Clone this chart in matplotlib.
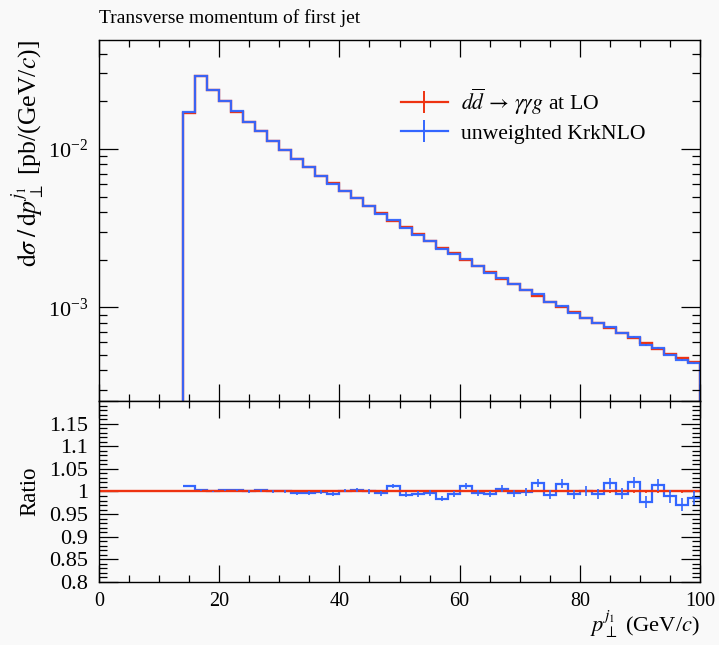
import numpy as np
import matplotlib
matplotlib.use('Agg')
from matplotlib import pyplot as plt
from matplotlib.lines import Line2D
from matplotlib.ticker import MultipleLocator, FuncFormatter, LogLocator

# binning of the leading-jet transverse momentum (GeV/c)
edges = np.arange(14, 101, 2)

# d(sigma)/dpT for d dbar -> gamma gamma g at LO [pb/(GeV/c)]
lo_xsec = [0.01680, 0.0289, 0.0236, 0.0200, 0.01720, 0.01481, 0.01294, 0.01123,
           0.00986, 0.00868, 0.00770, 0.00678, 0.00607, 0.00545, 0.00492, 0.00438,
           0.00392, 0.00352, 0.00320, 0.00290, 0.00262, 0.00238, 0.00219, 0.00199,
           0.00182, 0.00166, 0.00152, 0.00140, 0.00129, 0.001184, 0.001085, 0.001000,
           0.000930, 0.000860, 0.000799, 0.000740, 0.000688, 0.000640, 0.000592,
           0.000548, 0.000509, 0.000476, 0.000449]
lo_rel_err = [0.001, 0.001, 0.001, 0.001, 0.001, 0.001, 0.001, 0.001, 0.001, 0.001,
              0.001, 0.001, 0.001, 0.001, 0.002, 0.002, 0.002, 0.002, 0.002, 0.002,
              0.002, 0.002, 0.002, 0.002, 0.002, 0.002, 0.002, 0.002, 0.002, 0.002,
              0.002, 0.002, 0.002, 0.002, 0.002, 0.003, 0.003, 0.003, 0.003, 0.003,
              0.003, 0.003, 0.003]

# unweighted KrkNLO sample, as ratio to the LO prediction
krk_ratio = [1.012, 1.003, 1.000, 1.003, 1.004, 1.000, 1.003, 1.000, 1.000, 0.996,
             0.997, 0.999, 0.994, 1.002, 1.003, 1.000, 0.996, 1.012, 0.993, 0.994,
             0.997, 0.984, 0.994, 1.012, 0.997, 0.994, 1.006, 0.996, 0.999, 1.018,
             0.993, 1.017, 0.994, 1.002, 0.994, 1.018, 0.995, 1.020, 0.976, 1.015,
             0.989, 0.971, 0.986]
krk_rel_err = [0.002, 0.002, 0.002, 0.002, 0.002, 0.003, 0.003, 0.003, 0.003, 0.003,
               0.004, 0.004, 0.004, 0.004, 0.005, 0.005, 0.005, 0.005, 0.006, 0.006,
               0.006, 0.006, 0.007, 0.007, 0.007, 0.007, 0.008, 0.008, 0.009, 0.009,
               0.010, 0.010, 0.010, 0.011, 0.011, 0.012, 0.012, 0.012, 0.013, 0.013,
               0.014, 0.014, 0.015]

lo_xsec = np.array(lo_xsec)
krk_ratio = np.array(krk_ratio)
krk_xsec = lo_xsec * krk_ratio
centers = 0.5 * (edges[1:] + edges[:-1])

RED = '#EE3311'
BLUE = '#3366FF'
BG = '#f9f9f9'

plt.rcParams['font.family'] = 'Liberation Serif'
plt.rcParams['mathtext.fontset'] = 'stix'
plt.rcParams['font.size'] = 14

fig = plt.figure(figsize=(7.19, 6.45), dpi=100, facecolor=BG)
W, H = 719, 645
left, right = 99 / W, 700 / W
ax = fig.add_axes([left, 1 - 401 / H, right - left, 361 / H], facecolor=BG)
rax = fig.add_axes([left, 1 - 582 / H, right - left, 181 / H], facecolor=BG, sharex=ax)

# main panel
ax.stairs(lo_xsec, edges, baseline=1e-6, color=RED, lw=1.7)
ax.errorbar(centers, lo_xsec, yerr=lo_xsec * np.array(lo_rel_err), fmt='none',
            ecolor=RED, elinewidth=1.2)
ax.stairs(krk_xsec, edges, baseline=1e-6, color=BLUE, lw=1.6, alpha=0.95)
ax.errorbar(centers, krk_xsec, yerr=krk_xsec * np.array(krk_rel_err), fmt='none',
            ecolor=BLUE, elinewidth=1.2)
ax.set_yscale('log')
ax.set_ylim(2.56e-4, 0.0488)
ax.set_xlim(0, 100)
ax.yaxis.set_major_locator(LogLocator(base=10))
ax.yaxis.set_minor_locator(LogLocator(base=10, subs=np.arange(2, 10)))
ax.yaxis.set_minor_formatter(FuncFormatter(lambda v, p: ''))
plt.setp(ax.get_xticklabels(), visible=False)

# ratio panel
rax.axhline(1.0, color=RED, lw=1.7)
rax.errorbar(centers, np.ones_like(lo_xsec), yerr=lo_rel_err, fmt='none',
             ecolor=RED, elinewidth=1.2)
rax.stairs(krk_ratio, edges, baseline=None, color=BLUE, lw=1.6)
rax.errorbar(centers, krk_ratio, yerr=krk_rel_err, fmt='none', ecolor=BLUE,
             elinewidth=1.2)
rax.set_ylim(0.8, 1.2)
rax.yaxis.set_major_locator(MultipleLocator(0.05))
rax.yaxis.set_minor_locator(MultipleLocator(0.01))
rax.yaxis.set_major_formatter(FuncFormatter(
    lambda v, p: '' if v > 1.17 else f'{round(v, 2):g}'))
rax.xaxis.set_major_locator(MultipleLocator(20))
rax.xaxis.set_minor_locator(MultipleLocator(5))

for a in (ax, rax):
    a.tick_params(which='both', direction='in', top=True, right=True,
                  width=0.9, color='black')
    a.tick_params(axis='x', which='major', length=12, pad=7, labelsize=14.5)
    a.tick_params(axis='x', which='minor', length=5)
    a.tick_params(axis='y', which='major', length=13.5, pad=8, labelsize=16)
    a.tick_params(axis='y', which='minor', length=6)
    for s in a.spines.values():
        s.set_linewidth(1.0)

# legend
handles = [Line2D([], [], color=RED, lw=1.6, marker='|', markersize=16, markeredgewidth=1.4),
           Line2D([], [], color=BLUE, lw=1.6, marker='|', markersize=16, markeredgewidth=1.4)]
labels = [r'$d\overline{d}\,\rightarrow\,\gamma\gamma g$ at LO', 'unweighted KrkNLO']
ax.legend(handles, labels, loc='upper left', bbox_to_anchor=(0.47, 0.925),
          frameon=False, handlelength=2.15, handletextpad=0.6, labelspacing=0.3,
          fontsize=15.6)

# texts
fig.text(99 / W, 1 - 23 / H, 'Transverse momentum of first jet', ha='left',
         va='baseline', fontsize=14)
fig.text(28 / W, 1 - 40 / H,
         r'$\mathrm{d}\sigma\;/\,\mathrm{d}p_\perp^{j_1}$ [pb/(GeV/$c$)]',
         rotation=90, ha='center', va='top', fontsize=18.5)
fig.text(30 / W, 1 - 491 / H, 'Ratio', rotation=90, ha='center', va='center',
         fontsize=16.5)
fig.text(700 / W, 1 - 632 / H, r'$p_\perp^{j_1}$ (GeV/$c$)', ha='right',
         va='baseline', fontsize=16.2)

fig.savefig('out.png', dpi=100, facecolor=BG)
